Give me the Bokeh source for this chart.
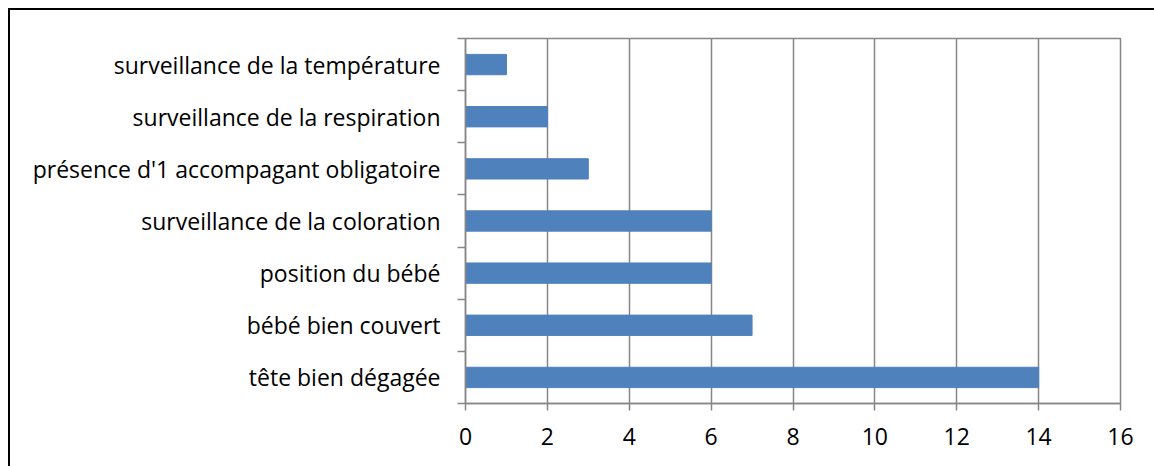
from bokeh.plotting import figure
from bokeh.models import ColumnDataSource, FixedTicker, Range1d
from bokeh.embed import file_html
from bokeh.resources import INLINE

categories = ["tête bien dégagée", "bébé bien couvert", "position du bébé",
              "surveillance de la coloration", "présence d'1 accompagant obligatoire",
              "surveillance de la respiration", "surveillance de la température"]
values = [14, 7, 6, 6, 3, 2, 1]
x_ticks = [0, 2, 4, 6, 8, 10, 12, 14, 16]

ypos = [i + 0.5 for i in range(len(categories))]
src = ColumnDataSource(dict(y=ypos, v=values, cat=categories))

GREY = "#868686"
FONT = "Open Sans"

p = figure(width=1154, height=466, output_backend="svg", toolbar_location=None,
           x_range=Range1d(0, 16), y_range=Range1d(0, len(categories)),
           min_border_left=465, min_border_top=38, min_border_right=34, min_border_bottom=63)
p.border_fill_color = None
p.background_fill_color = "white"
p.styles = {"background": "linear-gradient(black, black) 8px 8px / 2px 100% no-repeat, "
                          "linear-gradient(black, black) 8px 8px / 100% 2px no-repeat, white"}

p.hbar(y="y", right="v", left=0, height=0.39, source=src, color="#4F81BD")

p.outline_line_color = GREY
p.outline_line_width = 1.5
p.ygrid.visible = False
p.xgrid.ticker = FixedTicker(ticks=x_ticks)
p.xgrid.grid_line_color = GREY
p.xgrid.grid_line_width = 1.5

xa = p.xaxis[0]
xa.ticker = FixedTicker(ticks=x_ticks)
xa.axis_line_color = GREY
xa.axis_line_width = 1.5
xa.major_tick_line_color = GREY
xa.major_tick_line_width = 1.5
xa.major_tick_in = 0
xa.major_tick_out = 7
xa.minor_tick_line_color = None
xa.major_label_text_font = FONT
xa.major_label_text_font_size = "23px"
xa.major_label_text_color = "black"
xa.major_label_standoff = 17

ya = p.yaxis[0]
ya.ticker = FixedTicker(ticks=ypos, minor_ticks=list(range(len(categories) + 1)))
ya.major_label_overrides = {y: c for y, c in zip(ypos, categories)}
ya.axis_line_color = GREY
ya.axis_line_width = 1.5
ya.major_tick_line_color = None
ya.minor_tick_line_color = GREY
ya.minor_tick_line_width = 1.5
ya.minor_tick_in = 0
ya.minor_tick_out = 8
ya.major_label_text_font = FONT
ya.major_label_text_font_size = "23px"
ya.major_label_text_color = "black"
ya.major_label_standoff = 17

open("out.html", "w").write(file_html(p, INLINE))
